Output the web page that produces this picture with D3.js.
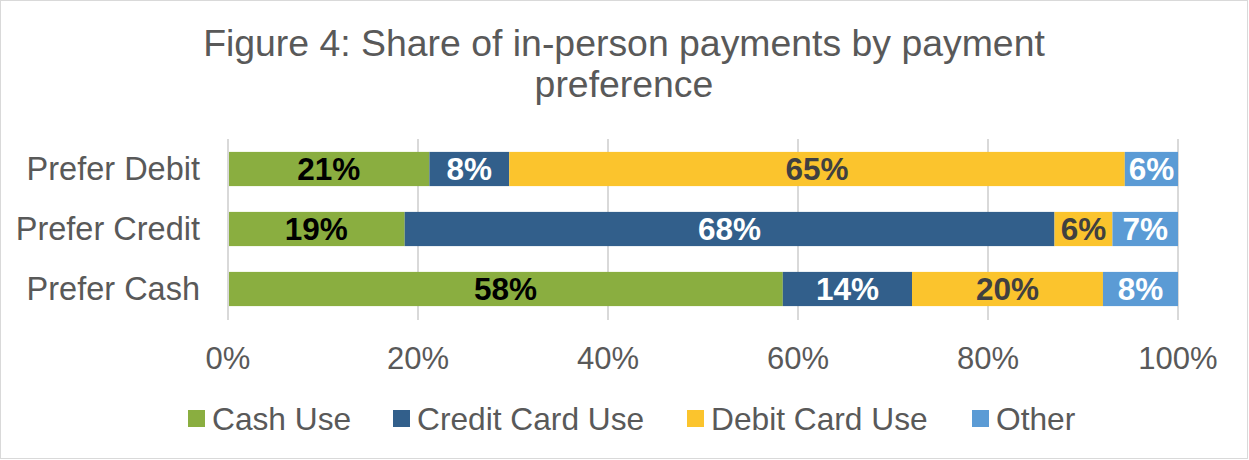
<!DOCTYPE html>
<html>
<head>
<meta charset="utf-8">
<title>Share of in-person payments</title>
<script src="https://d3js.org/d3.v7.min.js"></script>
<style>
  body { margin:0; background:#fff; }
  text { font-family: "Liberation Sans", Arial, sans-serif; }
</style>
</head>
<body>
<svg width="1249" height="460"></svg>
<script>
// rows top to bottom
var categories = ["Prefer Debit", "Prefer Credit", "Prefer Cash"];
var series = ["Cash Use", "Credit Card Use", "Debit Card Use", "Other"];
var cashUse   = [21.2, 18.6, 58.4];
var creditUse = [8.4, 68.4, 13.6];
var debitUse  = [64.8, 6.1, 20.1];
var otherUse  = [5.6, 6.9, 7.9];
var ticks = [0, 20, 40, 60, 80, 100];

var colors = ["#8aae40", "#325f8b", "#fbc42d", "#5b9bd5"];
var labelColors = ["#000000", "#ffffff", "#404040", "#ffffff"];

var rows = categories.map(function(c, i){
  return {cat:c, "Cash Use":cashUse[i], "Credit Card Use":creditUse[i],
          "Debit Card Use":debitUse[i], "Other":otherUse[i]};
});

var svg = d3.select("svg");
svg.append("rect").attr("x",0.5).attr("y",0.5).attr("width",1247).attr("height",458)
  .attr("fill","#fff").attr("stroke","#d9d9d9");

// title
svg.append("text").attr("x",624).attr("y",56).attr("text-anchor","middle")
  .attr("font-size",37.4).attr("fill","#595959").text("Figure 4: Share of in-person payments by payment");
svg.append("text").attr("x",624).attr("y",97).attr("text-anchor","middle")
  .attr("font-size",37.4).attr("fill","#595959").text("preference");

var x = d3.scaleLinear().domain([0,100]).range([228,1178]);
var y = d3.scaleBand().domain(categories).range([139,319]).paddingInner(0.43).paddingOuter(0.215);

// gridlines
svg.append("g").selectAll("line").data(ticks).enter().append("line")
  .attr("x1", function(d){return x(d);}).attr("x2", function(d){return x(d);})
  .attr("y1",139).attr("y2",320)
  .attr("stroke","#d9d9d9").attr("stroke-width",2);

// x tick labels
svg.append("g").selectAll("text").data(ticks).enter().append("text")
  .attr("x", function(d){return x(d);}).attr("y",369)
  .attr("text-anchor","middle").attr("font-size",31).attr("fill","#595959")
  .text(function(d){return d + "%";});

// category labels
svg.append("g").selectAll("text").data(categories).enter().append("text")
  .attr("x",200).attr("y", function(d){return y(d)+y.bandwidth()/2;})
  .attr("dy","0.35em").attr("text-anchor","end").attr("font-size",32.5).attr("fill","#595959")
  .text(function(d){return d;});

var stack = d3.stack().keys(series)(rows);

var layers = svg.append("g").selectAll("g").data(stack).enter().append("g")
  .attr("fill", function(d,i){return colors[i];});

layers.selectAll("rect").data(function(d){return d;}).enter().append("rect")
  .attr("x", function(d){return x(d[0]);})
  .attr("width", function(d){return x(d[1])-x(d[0]);})
  .attr("y", function(d){return y(d.data.cat);})
  .attr("height", y.bandwidth());

layers.each(function(s, si){
  d3.select(this).selectAll("text").data(s).enter().append("text")
    .attr("x", function(d){return (x(d[0])+x(d[1]))/2;})
    .attr("y", function(d){return y(d.data.cat)+y.bandwidth()/2;})
    .attr("dy","0.36em").attr("text-anchor","middle")
    .attr("font-size",31.5).attr("font-weight","bold")
    .attr("fill", labelColors[si])
    .text(function(d){return Math.round(d[1]-d[0]) + "%";});
});

// left axis line
svg.append("line").attr("x1",228).attr("x2",228).attr("y1",139).attr("y2",320)
  .attr("stroke","#d9d9d9").attr("stroke-width",2);

// legend
var legX = [188, 393, 687, 972];
var leg = svg.append("g").selectAll("g").data(series).enter().append("g")
  .attr("transform", function(d,i){return "translate(" + legX[i] + ",410)";});
leg.append("rect").attr("width",17).attr("height",17)
  .attr("fill", function(d,i){return colors[i];});
leg.append("text").attr("x",24).attr("y",8.5).attr("dy","0.36em")
  .attr("font-size",31.7).attr("fill","#595959").text(function(d){return d;});
</script>
</body>
</html>
